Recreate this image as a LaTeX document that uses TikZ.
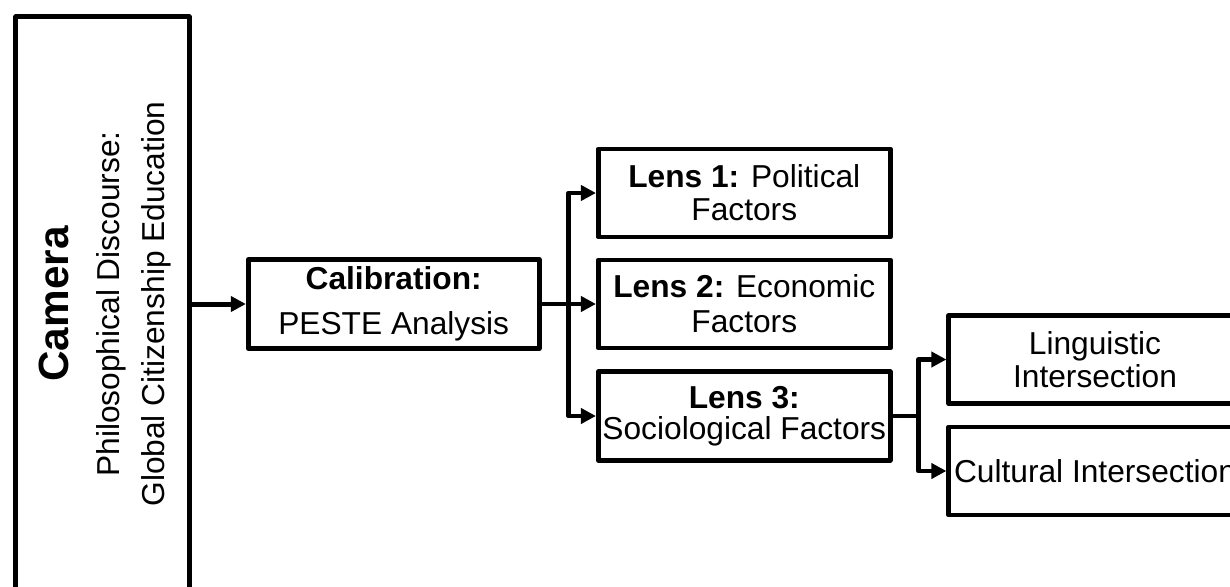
\documentclass[tikz,border=0pt]{standalone}
\usepackage{fontspec}
\setmainfont{Liberation Sans}
\usetikzlibrary{arrows.meta}
\begin{document}
\begin{tikzpicture}[x=1pt,y=-1pt,
  box/.style={draw=black, line width=4.7pt, line join=round, rectangle,
    inner sep=0pt, minimum width=292pt, minimum height=88pt, align=center,
    font=\fontsize{31.7}{33}\selectfont},
  conn/.style={line width=4.7pt, line join=round,
    -{Triangle[length=15pt,width=15pt]}}
]
\path[use as bounding box, clip] (0,0) rectangle (1230,586);
\fill[white] (0,0) rectangle (1230,586);

% tall frame on the left and its rotated caption
\node[draw=black, line width=5pt, line join=round, inner sep=0pt,
  minimum width=173.3pt, minimum height=574pt] (camera) at (102.4,304) {};
\node[rotate=90, align=center, inner sep=0pt,
  font=\fontsize{31.7}{45.3}\selectfont] (cameratext) at (105,304)
  {{\bfseries\fontsize{42.3}{45.3}\selectfont Camera}\\[5.4pt]
   Philosophical Discourse:\\Global Citizenship Education};

% calibration step
\node[box, minimum width=291pt, minimum height=89pt,
  font=\fontsize{31.7}{45.5}\selectfont] (calib) at (393.7,304)
  {\textbf{Calibration:}\\PESTE Analysis};

% the three lenses
\node[box] (lens1) at (744.3,193) {\textbf{Lens 1:} Political\\Factors};
\node[box, font=\fontsize{31.7}{35}\selectfont] (lens2) at (744.3,304)
  {\textbf{Lens 2:} Economic\\Factors};
\node[box, font=\fontsize{31.7}{31.5}\selectfont, minimum height=88.6pt]
  (lens3) at (744.3,416) {\textbf{Lens 3:}\\Sociological Factors};

% intersections branching from lens 3
\node[box, minimum width=292.5pt, font=\fontsize{31.7}{32.5}\selectfont]
  (ling) at (1095,359.5) {Linguistic\\Intersection};
\node[box, minimum width=292.5pt] (cult) at (1095,471) {Cultural Intersection};

% connectors
\coordinate (busA) at (568.7,304);
\coordinate (busB) at (918.7,416);

\draw[conn, line width=5pt] (camera.east) -- (calib.west);
\draw[conn] (calib.east) -- (lens2.west);
\draw[conn] (calib.east) -- (busA) |- (lens1.west);
\draw[conn] (calib.east) -- (busA) |- (lens3.west);
\draw[conn] (lens3.east) -- (busB) |- (ling.west);
\draw[conn] (lens3.east) -- (busB) |- (cult.west);
\end{tikzpicture}
\end{document}
